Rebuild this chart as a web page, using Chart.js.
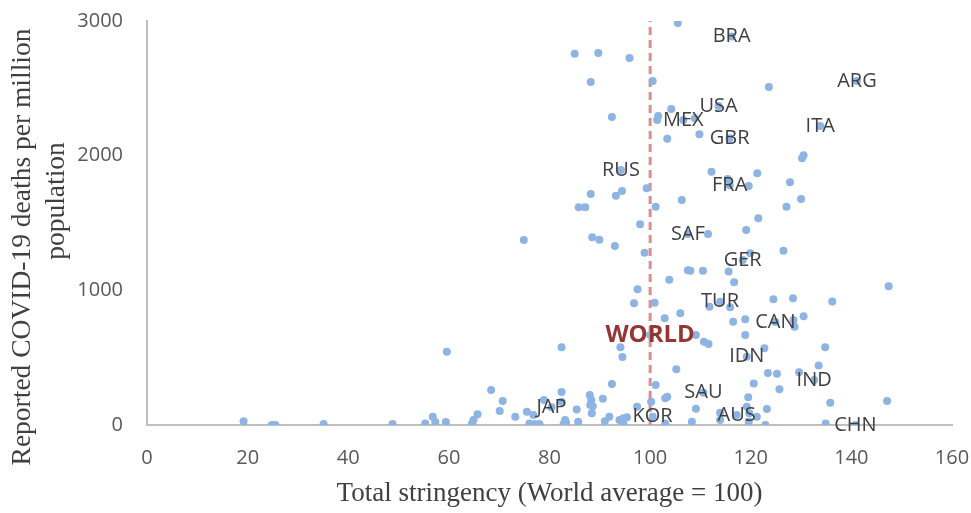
<!DOCTYPE html>
<html>
<head>
<meta charset="utf-8">
<title>Stringency vs COVID-19 deaths</title>
<script src="https://cdn.jsdelivr.net/npm/chart.js@4.4.0/dist/chart.umd.min.js"></script>
<style>
  body { margin: 0; background: #fff; }
</style>
</head>
<body>
<canvas id="myChart" width="971" height="513"></canvas>
<script>
// Axis ticks
const xTicks = [0, 20, 40, 60, 80, 100, 120, 140, 160];
const yTicks = [0, 1000, 2000, 3000];

// Unlabelled countries: total stringency (world = 100) and deaths per million
const stringency = [
  105.5, 85.0, 89.7, 95.9, 88.2, 100.5, 104.2, 92.4, 101.6, 101.4, 108.9, 109.8, 103.4,
  88.2, 93.2, 94.4, 99.3, 85.8, 87.1, 101.1, 106.3, 123.6, 130.5, 130.2, 112.2, 115.4,
  119.6, 121.3, 127.8, 130.0, 127.1, 121.5, 98.0, 74.9, 88.5, 89.9, 93.0, 98.9, 107.5,
  103.8, 97.5, 96.8, 100.9, 102.9, 106.0, 109.1, 59.6, 82.4, 94.1, 94.5, 105.2, 101.1,
  92.4, 68.4, 70.7, 70.1, 82.4, 88.0, 88.3, 88.1, 88.6, 88.4, 90.6, 78.9, 76.8, 75.5,
  73.2, 65.7, 64.9, 64.6, 56.8, 57.3, 55.3, 59.4, 76.0, 77.1, 78.0, 83.1, 83.3, 82.8,
  85.4, 85.7, 91.0, 91.9, 93.9, 94.7, 95.4, 94.7, 97.4, 100.2, 103.0, 103.4, 103.0,
  108.3, 109.1, 82.4, 111.5, 119.1, 126.5, 119.9, 108.0, 110.5, 115.6, 116.7, 147.4,
  124.5, 128.4, 136.2, 111.8, 115.9, 116.5, 118.9, 128.5, 128.7, 130.5, 118.9, 110.7,
  111.6, 122.7, 134.8, 133.5, 123.4, 125.2, 129.6, 120.6, 125.7, 119.5, 135.8, 147.1,
  119.2, 123.2, 113.9, 119.7, 121.2, 119.6, 113.9, 122.9, 134.9, 19.2, 24.8, 25.5,
  35.1, 48.8
];
const deaths = [
  2985, 2757, 2762, 2725, 2547, 2554, 2347, 2287, 2295, 2265, 2277, 2159, 2126,
  1715, 1703, 1738, 1758, 1617, 1617, 1621, 1671, 2510, 2003, 1981, 1881, 1827,
  1775, 1869, 1802, 1678, 1621, 1535, 1490, 1374, 1394, 1376, 1329, 1280, 1149,
  1079, 1008, 904, 908, 792, 829, 668, 544, 577, 577, 505, 414, 297,
  304, 260, 178, 104, 245, 223, 186, 149, 140, 87, 195, 186, 74, 99,
  62, 79, 37, 12, 62, 22, 12, 22, 12, 7, 7, 37, 17, 7,
  116, 25, 27, 62, 37, 50, 57, 7, 136, 173, 198, 210, 12,
  25, 121, 173, 1418, 1448, 1294, 1275, 1146, 1146, 1139, 1060, 1030,
  933, 941, 918, 879, 874, 767, 785, 780, 730, 807, 668, 619,
  602, 569, 577, 441, 386, 381, 391, 309, 265, 206, 166, 178,
  136, 119, 91, 87, 62, 25, 37, 0, 12, 27, 0, 0,
  7, 7
];

// Labelled countries
const labelCodes = ['BRA', 'ARG', 'USA', 'MEX', 'GBR', 'ITA', 'RUS', 'FRA', 'SAF', 'GER',
  'TUR', 'CAN', 'IDN', 'IND', 'SAU', 'JAP', 'KOR', 'AUS', 'CHN', 'WORLD'];
const labelStringency = [116.2, 141.1, 113.6, 106.6, 115.8, 133.8, 94.2, 115.8, 107.5, 118.4,
  113.9, 124.9, 119.2, 132.6, 110.6, 80.4, 100.5, 117.2, 140.8, 100.0];
const labelDeaths = [2884, 2554, 2369, 2265, 2129, 2220, 1894, 1780, 1418, 1225,
  916, 765, 507, 334, 240, 131, 62, 74, 0, 668];

// World average reference line
const worldLineX = [100, 100];
const worldLineY = [0, 3000];

const yTitleLines = ['Reported COVID-19 deaths per million', 'population'];

const dotColor = 'rgb(141, 180, 226)';

// Plugin to draw country codes centred on their points
const countryLabels = {
  id: 'countryLabels',
  afterDatasetsDraw(chart) {
    const meta = chart.getDatasetMeta(1);
    const ctx = chart.ctx;
    ctx.save();
    ctx.textAlign = 'center';
    ctx.textBaseline = 'middle';
    meta.data.forEach((pt, i) => {
      const code = labelCodes[i];
      if (code === 'WORLD') {
        ctx.font = 'bold 24px "Open Sans"';
        ctx.fillStyle = '#943634';
      } else {
        ctx.font = '20px "Open Sans"';
        ctx.fillStyle = '#404040';
      }
      ctx.fillText(code, pt.x, pt.y);
    });
    ctx.restore();
  }
};

// Y axis title: two rotated lines, each centred like in the original (Excel) chart
const yAxisTitle = {
  id: 'yAxisTitle',
  afterDraw(chart) {
    const ctx = chart.ctx;
    const area = chart.chartArea;
    ctx.save();
    ctx.font = '27.5px "Liberation Serif"';
    ctx.fillStyle = '#404040';
    ctx.textAlign = 'center';
    ctx.textBaseline = 'middle';
    // first line a bit below the plot centre, second line above it
    const spots = [[23, area.bottom - 178], [57, area.bottom - 224]];
    yTitleLines.forEach((line, i) => {
      ctx.save();
      ctx.translate(spots[i][0], spots[i][1]);
      ctx.rotate(-Math.PI / 2);
      ctx.fillText(line, 0, 0);
      ctx.restore();
    });
    ctx.restore();
  }
};

const ctx = document.getElementById('myChart').getContext('2d');
new Chart(ctx, {
  type: 'scatter',
  data: {
    datasets: [
      {
        data: stringency.map((x, i) => ({ x: x, y: deaths[i] })),
        backgroundColor: dotColor,
        borderWidth: 0,
        pointRadius: 4,
        order: 1
      },
      {
        data: labelStringency.map((x, i) => ({ x: x, y: labelDeaths[i] })),
        backgroundColor: dotColor,
        borderWidth: 0,
        pointRadius: 4,
        order: 1
      },
      {
        type: 'line',
        data: worldLineX.map((x, i) => ({ x: x, y: worldLineY[i] })),
        borderColor: 'rgb(222, 140, 140)',
        borderWidth: 3,
        borderDash: [8, 5],
        pointRadius: 0,
        fill: false,
        order: 3
      }
    ]
  },
  options: {
    responsive: false,
    animation: false,
    layout: { padding: { left: 0, top: 21, right: 19, bottom: 0 } },
    plugins: {
      legend: { display: false },
      tooltip: { enabled: false }
    },
    scales: {
      x: {
        type: 'linear',
        min: 0,
        max: 160,
        afterBuildTicks: s => { s.ticks = xTicks.map(v => ({ value: v })); },
        afterFit: s => { s.height = 88; s.paddingLeft = 0; s.paddingRight = 0; },
        grid: { display: false, drawTicks: false },
        border: { display: true, color: '#bfbfbf', width: 2 },
        ticks: {
          padding: 21,
          color: '#595959',
          font: { family: 'Open Sans', size: 20 },
          callback: v => String(v)
        },
        title: {
          display: true,
          text: 'Total stringency (World average = 100)',
          color: '#404040',
          font: { family: 'Liberation Serif', size: 27, lineHeight: 1.2 },
          padding: { top: 0, bottom: 3 }
        }
      },
      y: {
        type: 'linear',
        min: 0,
        max: 3000,
        afterBuildTicks: s => { s.ticks = yTicks.map(v => ({ value: v })); },
        afterFit: s => { s.width = 147; s.paddingTop = 0; s.paddingBottom = 0; },
        grid: { display: false, drawTicks: false },
        border: { display: true, color: '#bfbfbf', width: 2 },
        ticks: {
          padding: 24,
          color: '#595959',
          font: { family: 'Open Sans', size: 20 },
          callback: v => String(v)
        },
        title: { display: false }
      }
    }
  },
  plugins: [countryLabels, yAxisTitle]
});
</script>
</body>
</html>
